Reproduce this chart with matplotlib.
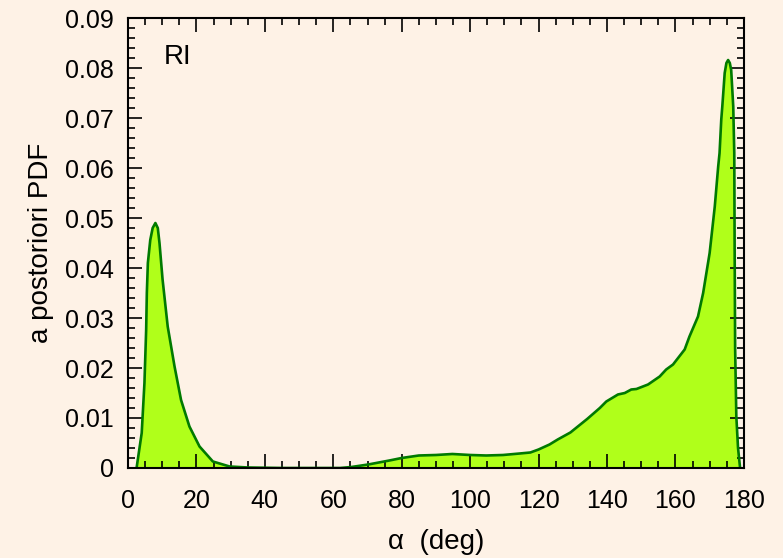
import numpy as np
import matplotlib
matplotlib.use("Agg")
import matplotlib.pyplot as plt
from matplotlib.ticker import MultipleLocator

# posterior PDF of alpha
alpha = [2.5, 4.0, 4.8, 5.3, 5.5, 5.8, 6.5, 7.2, 8.0, 8.7, 9.2, 10.1, 11.6, 13.6, 15.5,
         17.95, 20.9, 24.8, 29.7, 35.0, 45.0, 55.0, 62.0, 65.3, 70.2, 76.4, 80.0, 85.0,
         90.0, 94.8, 100.0, 104.7, 109.6, 114.5, 117.6, 120.0, 123.2, 125.6, 129.3,
         134.2, 137.9, 139.8, 143.2, 145.2, 147.1, 148.6, 152.0, 155.4, 157.3, 159.3,
         162.7, 164.1, 166.6, 168.1, 170.0, 171.5, 172.5, 172.9, 173.4, 173.7, 174.4,
         174.9, 175.4, 175.9, 176.3, 176.9, 177.2, 177.3, 177.45, 177.8, 178.3, 178.9]
pdf = [0.0, 0.007, 0.017, 0.0276, 0.035, 0.041, 0.0456, 0.048, 0.049, 0.048, 0.045,
       0.0377, 0.0283, 0.0203, 0.0136, 0.0083, 0.0043, 0.0013, 0.0003, 0.0001, 0.0, 0.0,
       0.0, 0.0002, 0.0007, 0.0015, 0.002, 0.0025, 0.0026, 0.0028, 0.0026, 0.0025,
       0.0026, 0.0029, 0.0031, 0.0037, 0.0047, 0.0057, 0.0071, 0.0098, 0.012, 0.0133,
       0.0147, 0.015, 0.0157, 0.0158, 0.0167, 0.0183, 0.0197, 0.0207, 0.0237, 0.0263,
       0.0303, 0.035, 0.043, 0.0523, 0.0603, 0.063, 0.0697, 0.0723, 0.0790, 0.0810,
       0.0816, 0.0810, 0.0796, 0.0723, 0.063, 0.045, 0.024, 0.0103, 0.004, 0.0]

bg = "#fef2e6"
plt.rcParams['font.family'] = ['Liberation Sans', 'DejaVu Sans']

fig = plt.figure(figsize=(7.83, 5.58), dpi=100, facecolor=bg)
ax = fig.add_axes([0.1635, 0.1613, 0.7865, 0.8064])
ax.set_facecolor(bg)

ax.fill_between(alpha, pdf, 0, color="#b0ff1a", linewidth=0)
ax.plot(alpha, pdf, color="#007a00", linewidth=1.9)

ax.set_xlim(0, 180)
ax.set_ylim(0, 0.09)
ax.xaxis.set_major_locator(MultipleLocator(20))
ax.xaxis.set_minor_locator(MultipleLocator(5))
ax.yaxis.set_major_locator(MultipleLocator(0.01))
ax.yaxis.set_minor_locator(MultipleLocator(0.002))
ax.yaxis.set_major_formatter(plt.FuncFormatter(lambda v, p: "0" if v == 0 else f"{v:.2f}"))

ax.tick_params(which="both", direction="in", top=True, right=True, labelsize=18, width=1.2)
ax.tick_params(which="major", length=10)
ax.tick_params(which="minor", length=5)
ax.tick_params(axis="x", which="major", pad=15)
ax.tick_params(axis="y", which="major", pad=10)
for s in ax.spines.values():
    s.set_linewidth(1.5)

ax.set_xlabel("α  (deg)", fontsize=20, labelpad=12)
ax.set_ylabel("a postoriori PDF", fontsize=20, labelpad=8)
ax.text(10.5, 0.0822, "RI", fontsize=20, va="center", ha="left")

fig.savefig("out.png", dpi=100, facecolor=bg)
